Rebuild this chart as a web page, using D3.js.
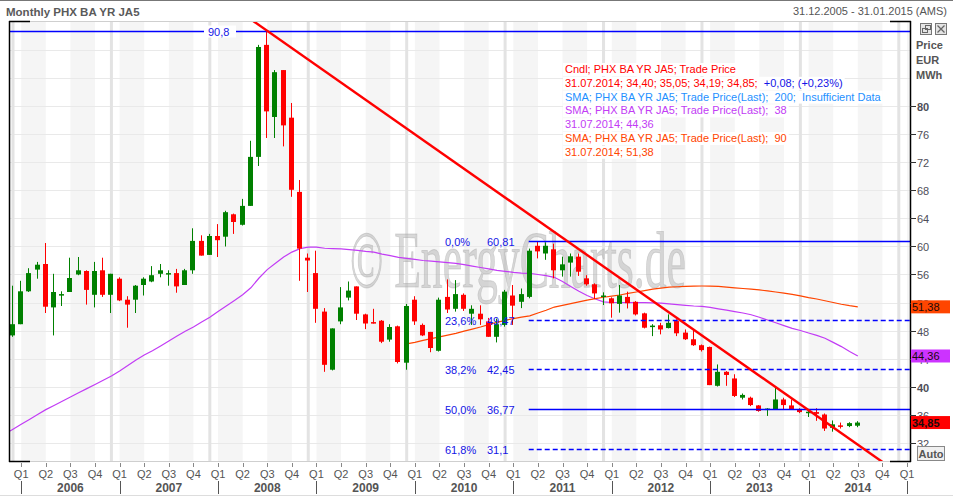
<!DOCTYPE html>
<html><head><meta charset="utf-8">
<script src="https://cdn.jsdelivr.net/npm/d3@7"></script>
<style>
body{margin:0;background:#fff;}
svg{display:block;font-family:"Liberation Sans",Arial,sans-serif;}
</style>
</head><body>
<svg id="chart" width="953" height="497"></svg>
<script>
// ---------------- DATA ----------------
const chartTitle = "Monthly PHX BA YR JA5";
const dateRange = "31.12.2005 - 31.01.2015 (AMS)";
const unitLines = ["Price", "EUR", "MWh"];
const firstCandleMonth = "2005-12";   // monthly candles Dec 2005 .. Jul 2014
const openP  = [47.3,48.9,53.6,56.7,57.5,51.3,53.0,53.5,56.0,56.5,53.1,56.6,53.1,
  55.4,52.4,52.4,54.5,55.0,56.1,56.0,56.2,54.5,56.6,60.8,58.8,
  61.5,61.4,64.6,63.1,65.8,72.8,88.8,78.5,85.2,78.4,67.8,58.4,
  56.2,50.7,42.4,49.3,52.7,54.3,50.3,49.2,49.4,46.7,48.6,43.4,
  52.4,48.8,47.8,45.1,52.8,51.1,53.1,50.4,50.4,49.3,47.1,48.8,
  53.0,52.1,52.8,60.1,59.0,59.6,56.6,57.7,58.55,55.45,54.6,52.9,
  52.6,51.8,52.8,52.1,50.45,48.6,48.75,48.35,49.35,47.7,46.75,45.9,
  45.65,40.1,42.1,41.15,38.4,38.4,37.3,36.7,36.75,38.15,37.3,36.75,
  36.3,36.35,36.0,34.1,34.45,34.35,34.40];
const highP  = [54.4,55.1,56.9,57.8,60.5,56.1,53.6,58.4,58.5,56.6,57.8,58.4,56.1,
  55.6,52.9,54.5,55.6,57.2,57.5,56.6,56.8,56.8,62.6,61.6,61.8,
  63.2,65.1,64.7,66.8,75.1,88.8,90.8,85.2,85.2,80.5,69.5,59.0,
  59.4,51.2,48.3,54.2,55.0,54.3,50.4,51.1,49.5,48.9,48.7,51.8,
  52.9,49.0,47.8,52.7,55.3,55.2,53.3,51.6,51.6,49.8,49.7,53.8,
  54.5,54.0,59.7,60.7,60.6,60.4,58.55,59.0,59.0,55.9,54.74,53.45,
  52.74,54.5,53.55,52.2,50.55,48.9,49.1,50.3,49.6,48.15,48.15,46.0,
  45.7,43.15,42.2,41.75,39.0,38.55,37.35,36.9,39.85,38.4,38.15,36.9,
  36.75,36.9,36.15,35.15,34.85,34.9,35.05];
const lowP   = [47.1,48.9,53.5,55.4,50.5,47.3,51.5,53.5,55.9,51.7,51.3,52.8,50.5,
  52.2,48.4,50.5,53.0,54.9,55.6,54.4,53.4,54.5,56.1,58.7,58.8,
  58.5,60.0,61.8,63.0,65.8,71.5,75.5,75.5,74.3,67.1,55.1,53.5,
  49.1,42.1,42.3,48.9,52.3,49.5,48.2,49.0,46.2,46.4,43.3,42.4,
  48.8,47.2,44.9,45.0,50.5,50.7,50.8,48.8,48.8,47.1,46.3,48.55,
  48.8,51.2,52.6,58.3,58.1,55.45,55.7,55.7,55.8,54.4,52.5,51.64,
  49.83,50.55,51.15,50.15,48.3,47.2,47.45,48.3,47.2,46.65,45.8,45.0,
  40.2,40.0,40.1,38.5,38.15,37.2,36.4,35.8,36.7,36.75,36.7,36.2,
  35.65,35.1,33.65,33.55,34.0,34.2,34.19];
const closeP = [48.9,53.6,56.2,57.4,51.4,53.5,53.2,55.5,56.6,53.8,56.5,53.1,56.1,
  52.3,51.7,54.4,55.4,55.9,56.6,56.2,54.3,56.6,60.8,58.7,61.5,
  60.9,64.9,63.5,65.8,72.8,88.5,79.3,84.9,77.3,68.1,59.7,58.0,
  51.1,43.1,48.3,51.3,53.7,50.4,49.0,49.1,46.4,48.5,43.5,51.5,
  49.3,47.3,45.5,52.4,51.0,53.2,51.1,51.1,49.6,47.1,48.9,53.55,
  51.55,53.2,59.4,59.3,60.1,56.6,57.45,58.6,56.4,54.6,53.3,53.0,
  51.88,53.0,51.9,50.3,48.4,48.7,48.15,49.1,47.6,46.75,45.9,45.2,
  40.2,42.1,41.65,38.65,38.8,37.35,36.5,36.85,38.15,37.35,36.75,36.35,
  36.4,36.1,34.0,34.6,34.25,34.77,34.85];
const sma38Start = "2005-11";
const sma38 = [33.2,33.9,34.6,35.3,36.0,36.7,37.3,37.9,38.5,39.1,39.7,40.3,40.9,41.5,
  42.2,43.0,43.8,44.5,45.1,45.8,46.5,47.2,47.9,48.5,49.2,49.9,
  50.7,51.5,52.3,53.1,54.1,55.5,56.7,57.6,58.5,59.2,59.7,59.9,
  59.9,59.75,59.7,59.65,59.55,59.45,59.3,59.2,58.9,58.7,58.45,58.3,
  58.15,58.0,57.9,57.8,57.7,57.6,57.4,57.2,57.0,56.8,56.6,56.45,
  56.3,56.2,56.15,56.0,55.85,55.6,55.0,54.3,53.6,53.0,52.5,52.1,
  52.0,51.97,51.97,51.97,51.97,51.95,51.9,51.8,51.7,51.6,51.5,51.45,
  51.3,51.1,50.9,50.7,50.5,50.25,49.9,49.5,49.1,48.7,48.3,48.0,
  47.65,47.3,46.9,46.3,45.7,45.0,44.36];
const sma90Start = "2009-12";
const sma90 = [46.1,46.3,46.6,46.85,47.1,47.35,47.6,47.9,48.2,48.5,48.85,49.15,
  49.45,49.7,49.9,50.1,50.5,50.9,51.35,51.6,51.85,52.1,52.35,52.55,
  52.75,52.9,53.07,53.3,53.5,53.7,53.9,54.05,54.2,54.25,54.3,54.35,
  54.36,54.35,54.3,54.2,54.1,54.0,53.9,53.8,53.65,53.5,53.35,53.15,
  52.95,52.7,52.5,52.25,52.0,51.75,51.55,51.38];
const peakLevel = 90.8, peakLabel = "90,8";
const fibPercents = ["0,0%", "23,6%", "38,2%", "50,0%", "61,8%"];
const fibValues   = [60.81, 49.47, 42.45, 36.77, 31.1];
const fibTexts    = ["60,81", "49,47", "42,45", "36,77", "31,1"];
const fibStartMonth = "2011-03";
const trendMonths = ["2008-07", "2013-09"];
const trendValues = [90.8, 39.9];
const yTicks = [32,36,40,44,48,52,56,60,64,68,72,76,80];
const yBoldTicks = [40,80];
const quarterNames = ["Q1","Q2","Q3","Q4"];
const years = [2006,2007,2008,2009,2010,2011,2012,2013,2014];
const lastValues = [51.38, 44.36, 34.85];
const lastTexts  = ["51,38", "44,36", "34,85"];
const legendLines = [
  [["Cndl; PHX BA YR JA5; Trade Price","red"]],
  [["31.07.2014; 34,40; 35,05; 34,19; 34,85;  ","red"],["+0,08; (+0,23%)","blue"]],
  [["SMA; PHX BA YR JA5; Trade Price(Last);  200;  Insufficient Data","sky"]],
  [["SMA; PHX BA YR JA5; Trade Price(Last);  38","purple"]],
  [["31.07.2014; 44,36","purple"]],
  [["SMA; PHX BA YR JA5; Trade Price(Last);  90","orange"]],
  [["31.07.2014; 51,38","orange"]]
];
const watermark = "\u00A9 EnergyCharts.de";

// ---------------- SETUP ----------------
const C = {red:"#ff0000", green:"#008000", blue:"#1414e6", sky:"#1e90ff",
           purple:"#c23cf5", orange:"#ff4500", text:"#555555"};
const LINEBLUE = "#0000ff";
const svg = d3.select("#chart");
const P = {l:9, r:910, t:21, b:461};
const mIdx = s => { const [yy,mm] = s.split("-").map(Number); return (yy-2006)*12 + (mm-1); };
const x = d3.scaleLinear().domain([0,108]).range([21.2,907]);
const y = d3.scaleLinear().domain([29.36,92.21]).range([P.b,P.t]);

svg.append("rect").attr("width",953).attr("height",497).attr("fill","#fff");
svg.append("rect").attr("x",0).attr("y",0).attr("width",953).attr("height",1).attr("fill","#777");

// header
svg.append("text").attr("x",6).attr("y",16).attr("font-size",11.5).attr("font-weight","bold")
  .attr("fill","#5a5a5a").text(chartTitle);
svg.append("text").attr("x",947).attr("y",15).attr("text-anchor","end").attr("font-size",11)
  .attr("fill","#555").text(dateRange);

// clip
svg.append("clipPath").attr("id","pc").append("rect")
  .attr("x",P.l).attr("y",P.t).attr("width",P.r-P.l).attr("height",P.b-P.t);
const g = svg.append("g").attr("clip-path","url(#pc)");

// quarter bands (Q1 & Q3)
const bandStarts = [];
for (let k=0;k<=9;k++){ bandStarts.push(12*k); bandStarts.push(12*k+6); }
g.selectAll("rect.band").data(bandStarts).join("rect").attr("class","band")
  .attr("x",d=>x(d)).attr("y",P.t).attr("width",d=>x(d+3)-x(d)).attr("height",P.b-P.t)
  .attr("fill","#f5f5f5");
// horizontal grid
g.selectAll("line.hg").data(d3.range(32,92,4)).join("line").attr("class","hg")
  .attr("x1",P.l).attr("x2",P.r).attr("y1",d=>Math.round(y(d))+0.5).attr("y2",d=>Math.round(y(d))+0.5)
  .attr("stroke","#e9e9e9").attr("stroke-width",1);
// year-end vertical lines
g.selectAll("line.vg").data(d3.range(-1,110,12)).join("line").attr("class","vg")
  .attr("x1",d=>x(d)).attr("x2",d=>x(d)).attr("y1",P.t).attr("y2",P.b)
  .attr("stroke","#e3e3e3").attr("stroke-width",3);

// watermark
g.append("text").attr("x",350).attr("y",287).attr("font-family","'Liberation Serif','Times New Roman',serif")
  .attr("font-size",80).attr("textLength",336).attr("lengthAdjust","spacingAndGlyphs")
  .attr("fill","#b4b4b4").attr("fill-opacity",0.5).attr("stroke","#9a9a9a").attr("stroke-opacity",0.35)
  .text(watermark);

// SMA lines
const line = d3.line().x(d=>x(d.i)).y(d=>y(d.v));
const s38 = sma38.map((v,k)=>({i:mIdx(sma38Start)+k, v}));
const s90 = sma90.map((v,k)=>({i:mIdx(sma90Start)+k, v}));
g.append("path").attr("d",line(s38)).attr("fill","none").attr("stroke",C.purple).attr("stroke-width",1.2);
g.append("path").attr("d",line(s90)).attr("fill","none").attr("stroke",C.orange).attr("stroke-width",1.2);

// candles
const i0 = mIdx(firstCandleMonth);
const candles = openP.map((o,k)=>({i:i0+k, o, h:highP[k], l:lowP[k], c:closeP[k]}));
const cg = g.selectAll("g.cdl").data(candles).join("g").attr("class","cdl");
cg.append("rect").attr("x",d=>Math.round(x(d.i))-1).attr("width",1)
  .attr("y",d=>y(d.h)).attr("height",d=>Math.max(1,y(d.l)-y(d.h)))
  .attr("fill",d=>d.c>=d.o?C.green:C.red);
cg.append("rect").attr("x",d=>Math.round(x(d.i))-3).attr("width",5)
  .attr("y",d=>y(Math.max(d.o,d.c))).attr("height",d=>Math.max(1.5,Math.abs(y(d.o)-y(d.c))))
  .attr("fill",d=>d.c>=d.o?C.green:C.red);

// peak line 90,8
const yp = Math.round(y(peakLevel))+0.5;
g.append("line").attr("x1",P.l).attr("x2",P.r).attr("y1",yp).attr("y2",yp).attr("stroke",LINEBLUE).attr("stroke-width",1.3);
g.append("rect").attr("x",204).attr("y",yp-6).attr("width",32).attr("height",12).attr("fill","#fff");
g.append("text").attr("x",208).attr("y",yp+4).attr("font-size",11).attr("fill",C.blue).text(peakLabel);

// fibonacci
const fx = x(mIdx(fibStartMonth)) - 1;
fibValues.forEach((v,k)=>{
  const yy = Math.round(y(v))+0.5;
  const solid = (k===0||k===3);
  g.append("line").attr("x1",fx).attr("x2",P.r).attr("y1",yy).attr("y2",yy)
    .attr("stroke",LINEBLUE).attr("stroke-width",solid?1.3:1.5)
    .attr("stroke-dasharray",solid?null:"5,3");
  g.append("text").attr("x",445).attr("y",yy+4).attr("font-size",11).attr("fill",C.blue).text(fibPercents[k]);
  g.append("text").attr("x",487).attr("y",yy+4).attr("font-size",11).attr("fill",C.blue).text(fibTexts[k]);
});

// trend line
const ti = trendMonths.map(mIdx);
const slope = (trendValues[1]-trendValues[0])/(ti[1]-ti[0]);
const tv = i => trendValues[0] + slope*(i-ti[0]);
g.append("line").attr("x1",x(27)).attr("y1",y(tv(27))).attr("x2",x(107)).attr("y2",y(tv(107)))
  .attr("stroke",C.red).attr("stroke-width",2.4);

// legend
const lg = svg.append("g");
legendLines.forEach((parts,k)=>{
  const yy = 73 + k*13.8;
  const t = lg.append("text").attr("x",565).attr("y",yy).attr("font-size",11).style("white-space","pre");
  parts.forEach(p=>t.append("tspan").attr("fill",C[p[1]]).text(p[0]));
  const w = t.node().getComputedTextLength();
  lg.insert("rect","text").attr("x",563).attr("y",yy-10).attr("width",w+4).attr("height",13).attr("fill","#fff");
});

// borders
svg.append("line").attr("x1",P.l).attr("x2",P.r).attr("y1",P.t+0.5).attr("y2",P.t+0.5).attr("stroke","#cfcfcf");
svg.append("line").attr("x1",P.l).attr("x2",P.r).attr("y1",P.b+0.5).attr("y2",P.b+0.5).attr("stroke","#cfcfcf");
const blk = (x1,y1,x2,y2)=>svg.append("line").attr("x1",x1).attr("y1",y1).attr("x2",x2).attr("y2",y2).attr("stroke","#000").attr("stroke-width",1.5);
blk(P.l+0.5,P.t,P.l+0.5,P.b+1); blk(P.l,P.t+0.5,P.l+21,P.t+0.5); blk(P.l,P.b+0.5,P.l+21,P.b+0.5);
blk(P.r+0.5,P.t,P.r+0.5,P.b+1); blk(P.r-20,P.t+0.5,P.r+1,P.t+0.5); blk(P.r-20,P.b+0.5,P.r+1,P.b+0.5);

// right axis
const ax = svg.append("g");
yTicks.forEach(v=>{
  const yy = Math.round(y(v))+0.5;
  ax.append("line").attr("x1",P.r).attr("x2",P.r+6).attr("y1",yy).attr("y2",yy).attr("stroke","#333");
  ax.append("text").attr("x",P.r+7).attr("y",yy+4).attr("font-size",11)
    .attr("font-weight",yBoldTicks.includes(v)?"bold":"normal").attr("fill","#4e4e58").text(v);
});
unitLines.forEach((t,k)=>ax.append("text").attr("x",916).attr("y",49+k*15).attr("font-size",11)
  .attr("font-weight","bold").attr("fill","#555").text(t));
const boxCol = [C.orange, "#cc33ff", "#ff0000"];
lastValues.forEach((v,k)=>{
  const yy = y(v);
  ax.append("rect").attr("x",911).attr("y",yy-6.5).attr("width",39).attr("height",13).attr("fill",boxCol[k]);
  ax.append("text").attr("x",912).attr("y",yy+4).attr("font-size",11).attr("font-weight",k===2?"bold":"normal")
    .attr("fill","#1a0a0a").text(lastTexts[k]);
});
// icons
ax.append("rect").attr("x",920.5).attr("y",23.5).attr("width",11).attr("height",11).attr("fill","#e4e4e4").attr("stroke","#777");
ax.append("rect").attr("x",922.5).attr("y",28.5).attr("width",5).attr("height",4).attr("fill","none").attr("stroke","#666");
ax.append("rect").attr("x",925.5).attr("y",25.5).attr("width",5).attr("height",4).attr("fill","none").attr("stroke","#666");
ax.append("rect").attr("x",935.5).attr("y",23.5).attr("width",11).attr("height",11).attr("fill","#e4e4e4").attr("stroke","#777");
ax.append("path").attr("d","M937.5,25.5L944.5,32.5M944.5,25.5L937.5,32.5").attr("stroke","#666").attr("stroke-width",1.3);
// Auto
ax.append("rect").attr("x",917.5).attr("y",446.5).attr("width",27).attr("height",14).attr("fill","#f0f0f0").attr("stroke","#888");
ax.append("text").attr("x",931).attr("y",457.5).attr("text-anchor","middle").attr("font-size",11)
  .attr("font-weight","bold").attr("fill","#555").text("Auto");

// bottom axis
const bx = svg.append("g");
d3.range(0,109,3).forEach(i=>{
  const xx = Math.round(x(i))+0.5;
  bx.append("line").attr("x1",xx).attr("x2",xx).attr("y1",463).attr("y2",467).attr("stroke","#888");
  bx.append("text").attr("x",x(i)).attr("y",478).attr("text-anchor","middle").attr("font-size",11)
    .attr("fill","#555").text(quarterNames[(i/3)%4]);
});
d3.range(0,109,12).forEach(i=>{
  const xx = Math.round(x(i))+0.5;
  bx.append("line").attr("x1",xx).attr("x2",xx).attr("y1",481).attr("y2",494).attr("stroke","#555");
});
years.forEach((yr,k)=>bx.append("text").attr("x",x(12*k+6)).attr("y",491.5).attr("text-anchor","middle")
  .attr("font-size",12).attr("font-weight","bold").attr("fill","#555").text(yr));
bx.append("line").attr("x1",0).attr("x2",953).attr("y1",495.5).attr("y2",495.5).attr("stroke","#ddd");
</script>
</body></html>
